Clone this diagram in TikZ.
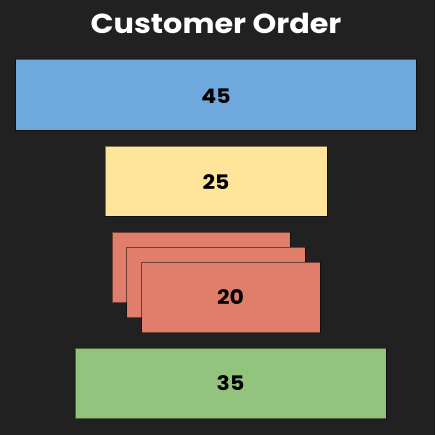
\documentclass[tikz,border=0pt]{standalone}
\usepackage{fontspec}
\setmainfont{Poppins}
\definecolor{bg}{HTML}{212121}
\definecolor{cblue}{HTML}{6FA8DC}
\definecolor{cyellow}{HTML}{FFE599}
\definecolor{cred}{HTML}{E07E6B}
\definecolor{cgreen}{HTML}{93C47D}
\newcommand{\widetxt}[1]{\scalebox{1.1}[1]{#1}}
\tikzset{
  blk/.style={draw=black, draw opacity=0.5, line width=0.9pt},
  num/.style={font=\fontsize{20}{22}\selectfont\bfseries, text=black},
}
\begin{document}
\begin{tikzpicture}[x=1pt,y=-1pt]
\fill[bg] (0,0) rectangle (435,435);
\useasboundingbox (0,0) rectangle (435,435);
\node[font=\fontsize{27.5}{30}\selectfont\bfseries, text=white] (title) at (216,23) {\widetxt{Customer Order}};
\draw[blk, fill=cblue] (15.5,59.5) rectangle (416,130.5);
\node[num] (n45) at (216,96) {\widetxt{45}};
\draw[blk, fill=cyellow] (105,146) rectangle (327,216);
\node[num] (n25) at (216,182) {\widetxt{25}};
\draw[blk, fill=cred] (112,232) rectangle (290,302.5);
\draw[blk, fill=cred] (126.5,247) rectangle (305,317.5);
\draw[blk, fill=cred] (141.5,262) rectangle (320,332.5);
\node[num] (n20) at (230.5,297.5) {\widetxt{20}};
\draw[blk, fill=cgreen] (75,348) rectangle (386,418.5);
\node[num] (n35) at (230.5,383.5) {\widetxt{35}};
\end{tikzpicture}
\end{document}
